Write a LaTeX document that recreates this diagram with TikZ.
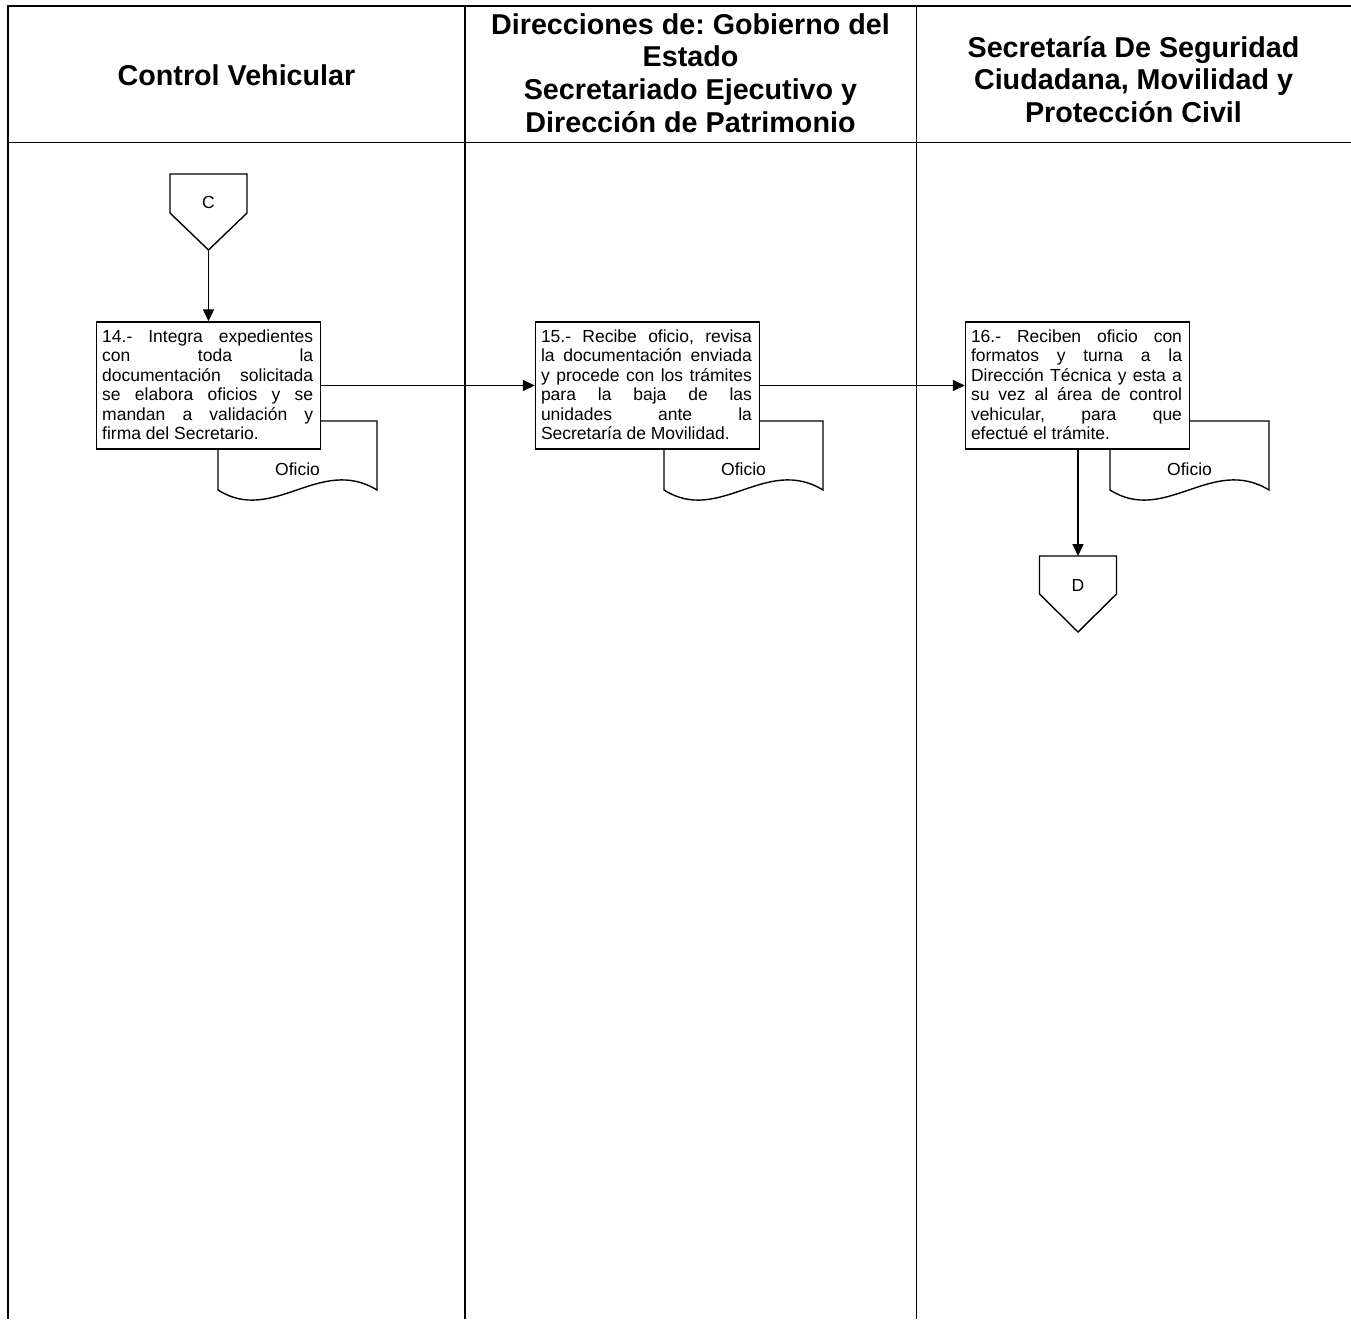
\documentclass[tikz,border=0pt]{standalone}
\usepackage{fontspec}
\setmainfont{Liberation Sans}
\usetikzlibrary{arrows.meta,calc}
\frenchspacing
\newcommand\jl[1]{\makebox[211pt][s]{#1}}
\begin{document}
\begin{tikzpicture}[x=1pt,y=-1pt,
  lane/.style={line width=1.8pt,line join=miter},
  head/.style={font=\fontsize{28.7}{32.8}\selectfont\bfseries,align=center,inner sep=0pt},
  procbox/.style={draw,line width=1.4pt,fill=white,minimum width=224pt,minimum height=127pt,inner sep=0pt},
  btext/.style={font=\fontsize{17.5}{19.5}\selectfont,align=left,inner sep=0pt,anchor=north west},
  docshape/.style={draw,line width=1.4pt,fill=white},
  conn/.style={draw,line width=1.4pt,fill=white,line join=miter},
  small/.style={font=\fontsize{17.5}{19.5}\selectfont,inner sep=0pt},
  arr/.style={line width=1.4pt,-{Triangle[length=12pt,width=11pt]}}]
\useasboundingbox (0,0) rectangle (1351,1319);
\fill[white] (0,0) rectangle (1351,1319);
% swimlane frame
\draw[lane] (8,1319) -- (8,6) -- (1351,6);
\draw[lane] (8,142.5) -- (1351,142.5);
\draw[lane] (465,6) -- (465,1319);
\draw[lane] (916.5,6) -- (916.5,1319);
% headers
\node[head,anchor=base] (h1) at (236.5,86) {Control Vehicular};
\node[head,anchor=north] (h2) at (690.5,11) {\strut Direcciones de: Gobierno del\\Estado\\Secretariado Ejecutivo y\\Dirección de Patrimonio};
\node[head,anchor=north] (h3) at (1133.5,34) {\strut Secretaría De Seguridad\\Ciudadana, Movilidad y\\Protección Civil};
% documents (behind boxes)
\draw[docshape] (218,421) -- (377,421) -- (377,490) .. controls (320,455) and (273,525) .. (218,490) -- cycle;
\node[small,anchor=base] (o14) at (297.5,475) {Oficio};
\draw[docshape] (664,421) -- (823,421) -- (823,490) .. controls (766,455) and (719,525) .. (664,490) -- cycle;
\node[small,anchor=base] (o15) at (743.5,475) {Oficio};
\draw[docshape] (1110,421) -- (1269,421) -- (1269,490) .. controls (1212,455) and (1165,525) .. (1110,490) -- cycle;
\node[small,anchor=base] (o16) at (1189.5,475) {Oficio};
% process boxes
\node[procbox] (b14) at (208.5,385.5) {};
\node[procbox] (b15) at (647.5,385.5) {};
\node[procbox] (b16) at (1077.5,385.5) {};
\node[btext] (t14) at ($(b14.north west)+(6.2,7)$) {\strut\jl{14.- Integra expedientes}\\\jl{con toda la}\\\jl{documentación solicitada}\\\jl{se elabora oficios y se}\\\jl{mandan a validación y}\\firma del Secretario.};
\node[btext] (t15) at ($(b15.north west)+(6,7)$) {\strut\jl{15.- Recibe oficio, revisa}\\\jl{la documentación enviada}\\\jl{y procede con los trámites}\\\jl{para la baja de las}\\\jl{unidades ante la}\\Secretaría de Movilidad.};
\node[btext] (t16) at ($(b16.north west)+(6,7)$) {\strut\jl{16.- Reciben oficio con}\\\jl{formatos y turna a la}\\\jl{Dirección Técnica y esta a}\\\jl{su vez al área de control}\\\jl{vehicular, para que}\\efectué el trámite.};
% off-page connectors
\draw[conn] (170,174) -- (247,174) -- (247,213) -- (208.5,250) -- (170,213) -- cycle;
\node[small] (C) at (208.5,202) {C};
\coordinate (Ctip) at (208.5,250);
\draw[conn] (1039.5,556) -- (1116.5,556) -- (1116.5,594) -- (1078,632) -- (1039.5,594) -- cycle;
\node[small] (D) at (1078,585) {D};
\coordinate (Dtop) at (1078,556);
% connectors
\draw[arr] (Ctip) -- (b14.north);
\draw[arr] (b14.east) -- (b15.west);
\draw[arr] (b15.east) -- (b16.west);
\draw[arr] (b16.south -| Dtop) -- (Dtop);
\end{tikzpicture}
\end{document}
